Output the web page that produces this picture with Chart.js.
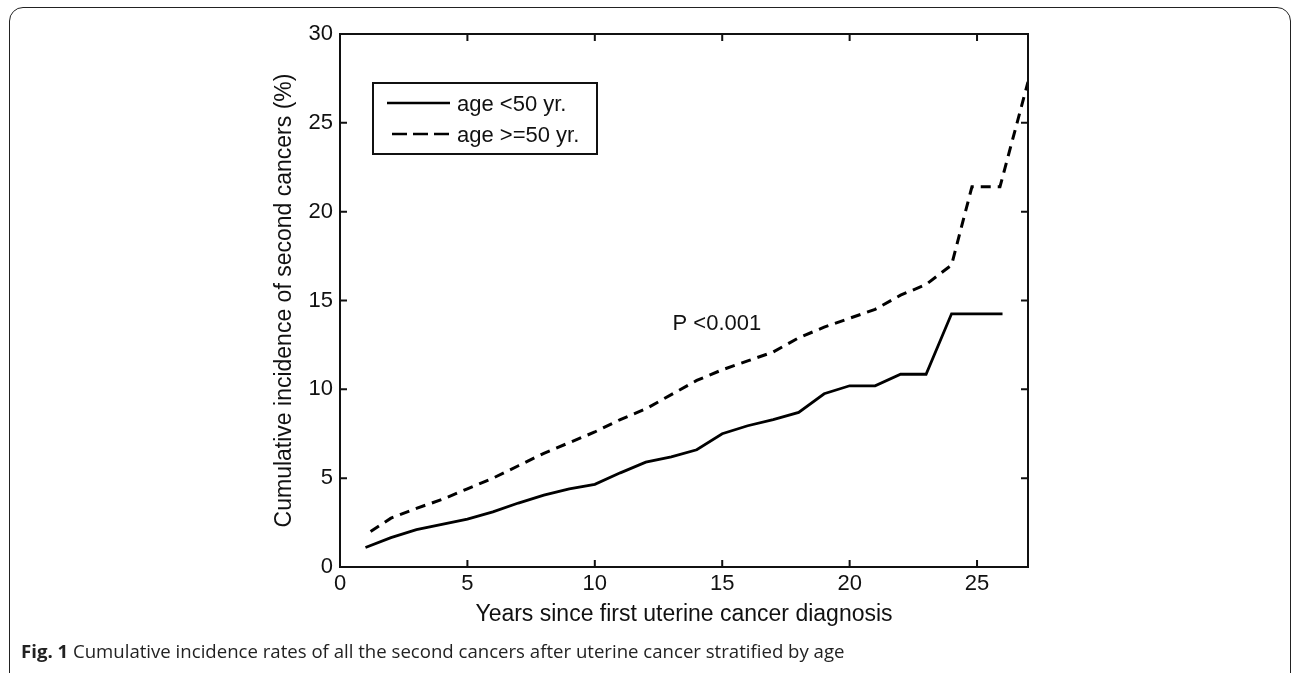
<!DOCTYPE html>
<html>
<head>
<meta charset="utf-8">
<script src="https://cdn.jsdelivr.net/npm/chart.js@4.4.1/dist/chart.umd.min.js"></script>
<style>
  html, body { margin: 0; padding: 0; background: #fff; }
  body { width: 1292px; height: 673px; position: relative; overflow: hidden; }
  .frame {
    position: absolute; left: 9px; top: 7px; width: 1282px; height: 720px;
    box-sizing: border-box; border: 1.8px solid #222; border-radius: 14px;
  }
  .chart-box { position: absolute; left: 0; top: 0; width: 1292px; height: 673px; }
  .caption {
    position: absolute; left: 21px; top: 638px; white-space: nowrap;
    font-family: "Open Sans", sans-serif; font-size: 18.6px; color: #222;
  }
  .caption b { font-weight: 700; }
</style>
</head>
<body>
<div class="frame"></div>
<div class="chart-box"><canvas id="cumChart"></canvas></div>
<div class="caption"><b>Fig. 1</b> Cumulative incidence rates of all the second cancers after uterine cancer stratified by age</div>

<script>
// age < 50 yr.
const youngYears = [1, 2, 3, 4, 5, 6, 7, 8, 9, 10, 11, 12, 13, 14, 15, 16, 17, 18, 19, 20, 21, 22, 23, 24, 26];
const youngRate  = [1.1, 1.65, 2.1, 2.4, 2.7, 3.1, 3.6, 4.05, 4.4, 4.65, 5.3, 5.9, 6.2, 6.6, 7.5, 7.95, 8.3, 8.7, 9.75, 10.2, 10.2, 10.85, 10.85, 14.25, 14.25];

// age >= 50 yr.
const oldYears = [1.2, 2, 3, 4, 5, 6, 7, 8, 9, 10, 11, 12, 13, 14, 15, 16, 17, 18, 19, 20, 21, 22, 23, 24, 24.8, 25.9, 27];
const oldRate  = [2.0, 2.75, 3.3, 3.8, 4.4, 5.0, 5.7, 6.4, 7.0, 7.6, 8.3, 8.9, 9.7, 10.5, 11.1, 11.6, 12.1, 12.9, 13.5, 14.0, 14.5, 15.3, 15.9, 17.0, 21.4, 21.4, 27.3];

const seriesNames = ["age <50 yr.", "age >=50 yr."];
const xTicks = [0, 5, 10, 15, 20, 25];
const yTicks = [0, 5, 10, 15, 20, 25, 30];
const pValueText = "P <0.001";
const pValuePos = [13.05, 13.7];

const axisFont = { family: "'Liberation Sans', Arial, sans-serif", size: 22 };
const dashPattern = [10, 7];

function toPoints(xs, ys) {
  return xs.map((x, i) => ({ x: x, y: ys[i] }));
}

// box round the plot, inward ticks, legend and p value
const matlabBox = {
  id: 'matlabBox',
  afterDraw(chart) {
    const ctx = chart.ctx;
    const a = chart.chartArea;
    const xs = chart.scales.x, ys = chart.scales.y;
    const tl = 7;
    ctx.save();
    ctx.strokeStyle = '#111';
    ctx.lineWidth = 2;
    ctx.strokeRect(a.left, a.top, a.right - a.left, a.bottom - a.top);
    ctx.beginPath();
    xTicks.forEach(v => {
      const px = xs.getPixelForValue(v);
      ctx.moveTo(px, a.bottom); ctx.lineTo(px, a.bottom - tl);
      ctx.moveTo(px, a.top); ctx.lineTo(px, a.top + tl);
    });
    yTicks.forEach(v => {
      const py = ys.getPixelForValue(v);
      ctx.moveTo(a.left, py); ctx.lineTo(a.left + tl, py);
      ctx.moveTo(a.right, py); ctx.lineTo(a.right - tl, py);
    });
    ctx.stroke();

    // legend
    const lx = a.left + 33, ly = a.top + 49, lw = 224, lh = 71;
    ctx.lineWidth = 2;
    ctx.fillStyle = '#fff';
    ctx.fillRect(lx, ly, lw, lh);
    ctx.strokeRect(lx, ly, lw, lh);
    ctx.font = axisFont.size + 'px ' + axisFont.family;
    ctx.fillStyle = '#111';
    ctx.textBaseline = 'middle';
    ctx.textAlign = 'left';
    const rows = [ly + 20, ly + 51];
    ctx.lineWidth = 2.5;
    ctx.strokeStyle = '#000';
    ctx.beginPath();
    ctx.setLineDash([]);
    ctx.moveTo(lx + 14, rows[0]); ctx.lineTo(lx + 77, rows[0]);
    ctx.stroke();
    ctx.beginPath();
    ctx.setLineDash([15, 6]);
    ctx.moveTo(lx + 19, rows[1]); ctx.lineTo(lx + 77, rows[1]);
    ctx.stroke();
    ctx.setLineDash([]);
    ctx.fillText(seriesNames[0], lx + 84, rows[0] + 2);
    ctx.fillText(seriesNames[1], lx + 84, rows[1] + 2);

    // p value
    ctx.fillText(pValueText, xs.getPixelForValue(pValuePos[0]), ys.getPixelForValue(pValuePos[1]));
    ctx.restore();
  }
};

new Chart(document.getElementById('cumChart'), {
  type: 'line',
  data: {
    datasets: [
      {
        label: seriesNames[0],
        data: toPoints(youngYears, youngRate),
        borderColor: '#000',
        borderWidth: 2.8,
        pointRadius: 0,
        tension: 0,
        fill: false
      },
      {
        label: seriesNames[1],
        data: toPoints(oldYears, oldRate),
        borderColor: '#000',
        borderWidth: 3,
        borderDash: dashPattern,
        pointRadius: 0,
        tension: 0,
        fill: false
      }
    ]
  },
  options: {
    responsive: true,
    maintainAspectRatio: false,
    animation: false,
    layout: { padding: { left: 250, right: 264, top: 34, bottom: 45 } },
    plugins: { legend: { display: false }, tooltip: { enabled: false } },
    scales: {
      x: {
        type: 'linear',
        min: 0,
        max: 27,
        afterBuildTicks: s => { s.ticks = xTicks.map(v => ({ value: v })); },
        afterFit: s => { s.height = 61; },
        grid: { display: false, drawTicks: false },
        border: { display: false },
        ticks: { color: '#111', font: axisFont, padding: 4, maxRotation: 0 },
        title: {
          display: true,
          text: 'Years since first uterine cancer diagnosis',
          color: '#111',
          font: { family: axisFont.family, size: 23 },
          padding: { top: 0, bottom: 0 }
        }
      },
      y: {
        type: 'linear',
        min: 0,
        max: 30,
        afterBuildTicks: s => { s.ticks = yTicks.map(v => ({ value: v })); },
        afterFit: s => { s.width = 90; },
        grid: { display: false, drawTicks: false },
        border: { display: false },
        ticks: { color: '#111', font: axisFont, padding: 7 },
        title: {
          display: true,
          text: 'Cumulative incidence of second cancers (%)',
          color: '#111',
          font: { family: axisFont.family, size: 23 },
          padding: { top: 21, bottom: 0 }
        }
      }
    }
  },
  plugins: [matlabBox]
});
</script>
</body>
</html>
